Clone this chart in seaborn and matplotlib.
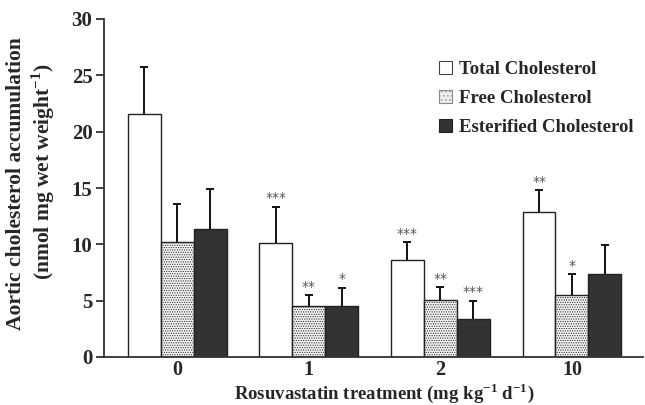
import pandas as pd
import matplotlib.pyplot as plt
import seaborn as sns
from matplotlib.patches import Patch

# -------------------------
# Data
# -------------------------
doses = ['0', '1', '2', '10']
kinds = ['Total Cholesterol', 'Free Cholesterol', 'Esterified Cholesterol']

total = [21.6, 10.1, 8.6, 12.9]
total_err = [4.1, 3.25, 1.6, 1.9]
free = [10.2, 4.5, 5.1, 5.5]
free_err = [3.35, 1.0, 1.1, 1.85]
ester = [11.4, 4.5, 3.4, 7.4]
ester_err = [3.5, 1.65, 1.6, 2.55]

total_stars = ['', '***', '***', '**']
free_stars = ['', '**', '**', '*']
ester_stars = ['', '*', '***', '']

df = pd.DataFrame({
    'dose': doses * 3,
    'kind': [k for k in kinds for _ in doses],
    'value': total + free + ester,
})
errs = [total_err, free_err, ester_err]
stars = [total_stars, free_stars, ester_stars]

# -------------------------
# Style
# -------------------------
sns.set_style('ticks')
plt.rcParams['font.family'] = ['Liberation Serif', 'DejaVu Serif']
plt.rcParams['font.weight'] = 'bold'
plt.rcParams['mathtext.fontset'] = 'custom'
plt.rcParams['mathtext.rm'] = 'Liberation Serif:bold'
plt.rcParams['mathtext.bf'] = 'Liberation Serif:bold'
plt.rcParams['hatch.color'] = '#b4b4b4'
plt.rcParams['hatch.linewidth'] = 0.5

fig = plt.figure(figsize=(6.45, 4.05), dpi=100)
ax = fig.add_axes([103.5 / 645, 1 - 357 / 405, (643 - 103.5) / 645, (357 - 19) / 405])

colors = ['white', '#f2f2f2', '#333333']
sns.barplot(data=df, x='dose', y='value', hue='kind', order=doses, hue_order=kinds,
            palette=colors, width=0.75, gap=0, edgecolor='#222222', linewidth=1,
            errorbar=None, legend=False, saturation=1, ax=ax)

for p in ax.containers[1]:
    p.set_hatch('.......')
    if hasattr(p, 'set_hatchcolor'):
        p.set_hatchcolor('#b4b4b4')

# error bars (upper only) and significance stars
for cont, err, st in zip(ax.containers, errs, stars):
    xs = [b.get_x() + b.get_width() / 2 for b in cont]
    hs = [b.get_height() for b in cont]
    eb = ax.errorbar(xs, hs, yerr=[[0] * len(err), err], fmt='none', ecolor='#111111',
                     elinewidth=1.4, capsize=3, capthick=1.4, zorder=3)
    eb[1][0].set_visible(False)  # hide lower cap
    for x, h, e, s in zip(xs, hs, err, st):
        if s:
            ax.annotate(s, (x, h + e), xytext=(0, 1), textcoords='offset points',
                        ha='center', va='bottom', fontsize=10, color='#555555',
                        family='DejaVu Sans', fontweight='normal')

ax.set_ylim(0, 30)
ax.set_xlim(-0.56, 3.54)
ax.set_yticks([0, 5, 10, 15, 20, 25, 30])
ax.set_xlabel('')
ax.set_ylabel('')
ax.tick_params(axis='y', length=6, width=1.3, pad=2, labelsize=15, color='#333333')
ax.tick_params(axis='x', length=0, pad=2, labelsize=14.5)
for s in ['top', 'right']:
    ax.spines[s].set_visible(False)
for s in ['left', 'bottom']:
    ax.spines[s].set_linewidth(1.3)
    ax.spines[s].set_color('#333333')

# axis titles
fig.text(16 / 645, 1 - 184 / 405, 'Aortic cholesterol accumulation', rotation=90,
         ha='center', va='center', fontsize=15.5, fontweight='bold')
fig.text(43 / 645, 1 - 172 / 405, '(nmol mg wet weight$^{-1}$)', rotation=90,
         ha='center', va='center', fontsize=15.5, fontweight='bold')
fig.text(384 / 645, 1 - 399 / 405, 'Rosuvastatin treatment (mg kg$^{-1}$ d$^{-1}$)',
         ha='center', va='baseline', fontsize=13.5, fontweight='bold')

# legend
handles = [Patch(facecolor='white', edgecolor='#444444', linewidth=0.8),
           Patch(facecolor='#eeeeee', edgecolor='#888888', hatch='....', linewidth=0.8),
           Patch(facecolor='#333333', edgecolor='#222222', linewidth=0.8)]
fig.legend(handles, kinds, loc='upper left', bbox_to_anchor=(439 / 645, 1 - 61 / 405),
           frameon=False, handlelength=0.7, handleheight=0.7,
           handletextpad=0.35, labelspacing=0.62, borderpad=0, borderaxespad=0,
           prop={'weight': 'bold', 'size': 13.5})

fig.savefig('out.png', dpi=100)
